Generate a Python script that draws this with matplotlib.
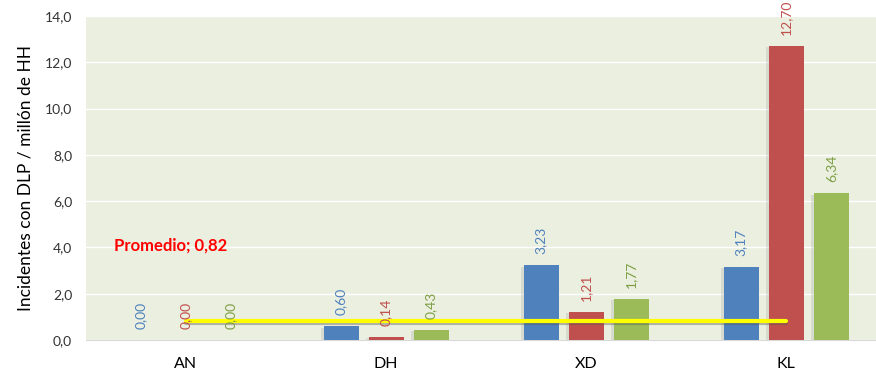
import matplotlib
matplotlib.use("Agg")
import matplotlib.pyplot as plt
import matplotlib.patheffects as pe
import numpy as np

categories = ["AN", "DH", "XD", "KL"]
serie_azul = [0.00, 0.60, 3.23, 3.17]
serie_roja = [0.00, 0.14, 1.21, 12.70]
serie_verde = [0.00, 0.43, 1.77, 6.34]
promedio = 0.82
y_ticks = [0, 2, 4, 6, 8, 10, 12, 14]

plt.rcParams['font.family'] = ['Lato', 'DejaVu Sans']

colors = ['#4F81BD', '#C0504D', '#9BBB59']
label_colors = ['#4F81BD', '#C0504D', '#7E9F45']
series = [serie_azul, serie_roja, serie_verde]

fig = plt.figure(figsize=(8.76, 3.77), dpi=100)
ax = fig.add_axes([86 / 876, 37 / 377, 800 / 876, 324 / 377])
ax.set_facecolor('#EBEFE0')

x = np.arange(len(categories))
bar_width = 0.175
offsets = [-0.225, 0.0, 0.225]

shadow = [pe.SimplePatchShadow(offset=(-1.5, -1), shadow_rgbFace='#888888', alpha=0.2), pe.Normal()]

for vals, col, lcol, off in zip(series, colors, label_colors, offsets):
    bars = ax.bar(x + off, vals, width=bar_width, color=col, zorder=3)
    for b in bars:
        b.set_path_effects(shadow)
    for xi, v in zip(x + off, vals):
        ax.annotate(f"{v:.2f}".replace('.', ','), (xi, v), xytext=(0, 8),
                    textcoords='offset points', rotation=90, ha='center', va='bottom',
                    color=lcol, fontsize=10, zorder=5, annotation_clip=False)

# linea de promedio
ax.plot([x[0], x[-1]], [promedio, promedio], color='#FFFF00', lw=3, zorder=4,
        solid_capstyle='round',
        path_effects=[pe.SimpleLineShadow(offset=(0, -1.5), shadow_color='#555555', alpha=0.4), pe.Normal()])
ax.text(-0.36, 4.1, f"Promedio; {promedio:.2f}".replace('.', ','), color='#FF0000',
        fontsize=12, fontweight='bold', va='center', ha='left', zorder=5)

ax.set_xlim(-0.5, len(categories) - 0.5)
ax.set_ylim(0, 14)
ax.set_yticks(y_ticks)
ax.set_yticklabels([f"{t:.1f}".replace('.', ',') for t in y_ticks], fontsize=10, color='#333333')
ax.set_xticks(x)
ax.set_xticklabels(categories, fontsize=11.5)
ax.tick_params(axis='both', length=0)
ax.tick_params(axis='x', pad=12)
ax.tick_params(axis='y', pad=10)
ax.yaxis.grid(True, color='white', lw=1, zorder=0)
ax.set_axisbelow(True)
for s in ['top', 'right', 'left']:
    ax.spines[s].set_visible(False)
ax.spines['bottom'].set_color('#D9D9D9')
ax.set_ylabel("Incidentes con DLP / millón de HH", fontsize=12.5, labelpad=8)

fig.savefig("out.png", dpi=100)
